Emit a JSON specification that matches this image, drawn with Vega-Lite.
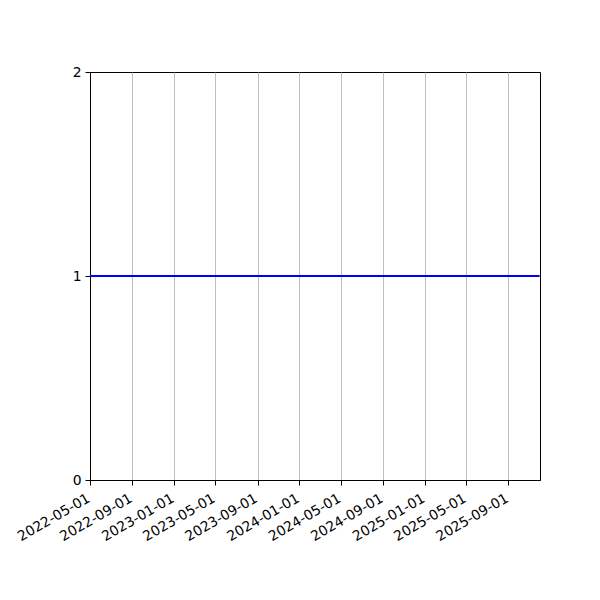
{
  "$schema": "https://vega.github.io/schema/vega-lite/v6.json",
  "width": 450,
  "height": 408,
  "autosize": {"type": "none"},
  "padding": {"left": 90, "top": 72, "right": 60, "bottom": 120},
  "background": "white",
  "config": {
    "view": {"stroke": "black", "strokeWidth": 1},
    "font": "DejaVu Sans",
    "axis": {
      "labelFont": "DejaVu Sans",
      "labelFontSize": 13.9,
      "labelColor": "black",
      "domainColor": "black",
      "tickColor": "black",
      "tickSize": 5,
      "labelPadding": 4,
      "title": null
    }
  },
  "data": {
    "values": [
      {"date": "2022-05-01", "value": 1},
      {"date": "2022-06-01", "value": 1},
      {"date": "2022-07-01", "value": 1},
      {"date": "2022-08-01", "value": 1},
      {"date": "2022-09-01", "value": 1},
      {"date": "2022-10-01", "value": 1},
      {"date": "2022-11-01", "value": 1},
      {"date": "2022-12-01", "value": 1},
      {"date": "2023-01-01", "value": 1},
      {"date": "2023-02-01", "value": 1},
      {"date": "2023-03-01", "value": 1},
      {"date": "2023-04-01", "value": 1},
      {"date": "2023-05-01", "value": 1},
      {"date": "2023-06-01", "value": 1},
      {"date": "2023-07-01", "value": 1},
      {"date": "2023-08-01", "value": 1},
      {"date": "2023-09-01", "value": 1},
      {"date": "2023-10-01", "value": 1},
      {"date": "2023-11-01", "value": 1},
      {"date": "2023-12-01", "value": 1},
      {"date": "2024-01-01", "value": 1},
      {"date": "2024-02-01", "value": 1},
      {"date": "2024-03-01", "value": 1},
      {"date": "2024-04-01", "value": 1},
      {"date": "2024-05-01", "value": 1},
      {"date": "2024-06-01", "value": 1},
      {"date": "2024-07-01", "value": 1},
      {"date": "2024-08-01", "value": 1},
      {"date": "2024-09-01", "value": 1},
      {"date": "2024-10-01", "value": 1},
      {"date": "2024-11-01", "value": 1},
      {"date": "2024-12-01", "value": 1},
      {"date": "2025-01-01", "value": 1},
      {"date": "2025-02-01", "value": 1},
      {"date": "2025-03-01", "value": 1},
      {"date": "2025-04-01", "value": 1},
      {"date": "2025-05-01", "value": 1},
      {"date": "2025-06-01", "value": 1},
      {"date": "2025-07-01", "value": 1},
      {"date": "2025-08-01", "value": 1},
      {"date": "2025-09-01", "value": 1},
      {"date": "2025-10-01", "value": 1},
      {"date": "2025-11-01", "value": 1},
      {"date": "2025-12-01", "value": 1}
    ]
  },
  "mark": {"type": "line", "color": "#0000ff", "strokeWidth": 2, "clip": true},
  "encoding": {
    "x": {
      "field": "date",
      "type": "temporal",
      "scale": {
        "type": "utc",
        "domain": [
          {"year": 2022, "month": 5, "date": 1, "utc": true},
          {"year": 2025, "month": 12, "date": 2, "utc": true}
        ],
        "nice": false
      },
      "axis": {
        "values": [
          {"year": 2022, "month": 5, "date": 1, "utc": true},
          {"year": 2022, "month": 9, "date": 1, "utc": true},
          {"year": 2023, "month": 1, "date": 1, "utc": true},
          {"year": 2023, "month": 5, "date": 1, "utc": true},
          {"year": 2023, "month": 9, "date": 1, "utc": true},
          {"year": 2024, "month": 1, "date": 1, "utc": true},
          {"year": 2024, "month": 5, "date": 1, "utc": true},
          {"year": 2024, "month": 9, "date": 1, "utc": true},
          {"year": 2025, "month": 1, "date": 1, "utc": true},
          {"year": 2025, "month": 5, "date": 1, "utc": true},
          {"year": 2025, "month": 9, "date": 1, "utc": true}
        ],
        "labelExpr": "utcFormat(datum.value, '%Y-%m-%d')",
        "labelAngle": -30,
        "labelAlign": "right",
        "labelBaseline": "top",
        "labelOffset": -5,
        "labelPadding": 6,
        "labelOverlap": false,
        "labelFlush": false,
        "grid": true,
        "gridColor": "#b0b0b0",
        "gridWidth": 0.8
      }
    },
    "y": {
      "field": "value",
      "type": "quantitative",
      "scale": {"domain": [0, 2], "nice": false, "zero": false},
      "axis": {"values": [0, 1, 2], "labelExpr": "format(datum.value, 'd')", "labelOverlap": false, "labelFlush": false, "grid": false}
    }
  }
}
